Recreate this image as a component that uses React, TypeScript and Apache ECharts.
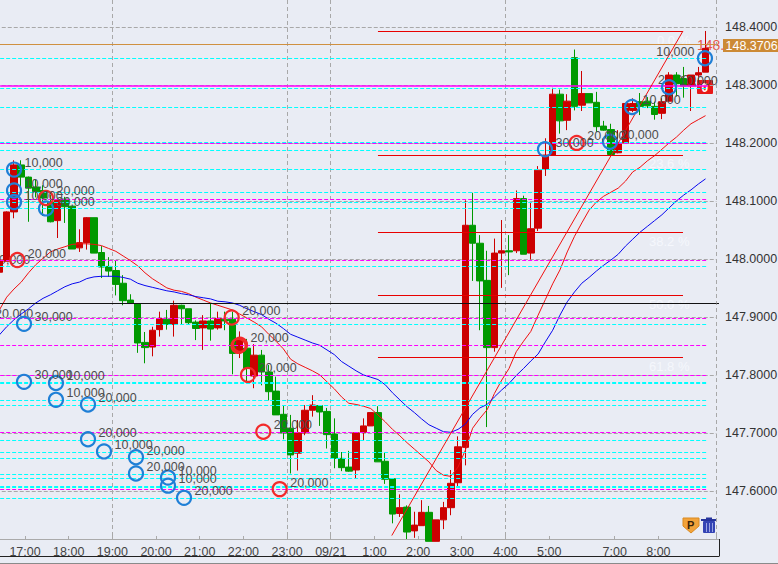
import React, { useEffect, useRef } from "react";
import * as echarts from "echarts";

// Category per 10-minute bar; the feed jumps from 5:50 to 6:30.
const categories = [
  "16:20","16:30","16:40","16:50",
  "17:00","17:10","17:20","17:30","17:40","17:50",
  "18:00","18:10","18:20","18:30","18:40","18:50",
  "19:00","19:10","19:20","19:30","19:40","19:50",
  "20:00","20:10","20:20","20:30","20:40","20:50",
  "21:00","21:10","21:20","21:30","21:40","21:50",
  "22:00","22:10","22:20","22:30","22:40","22:50",
  "23:00","23:10","23:20","23:30","23:40","23:50",
  "09/21","0:10","0:20","0:30","0:40","0:50",
  "1:00","1:10","1:20","1:30","1:40","1:50",
  "2:00","2:10","2:20","2:30","2:40","2:50",
  "3:00","3:10","3:20","3:30","3:40","3:50",
  "4:00","4:10","4:20","4:30","4:40","4:50",
  "5:00","5:10","5:20","5:30","5:40","5:50",
  "6:30","6:40","6:50",
  "7:00","7:10","7:20","7:30","7:40","7:50",
  "8:00","8:10","8:20","8:30","8:40","8:50",
  "9:00","9:10",
];
const timeTicks = ["17:00","18:00","19:00","20:00","21:00","22:00","23:00","09/21","1:00","2:00","3:00","4:00","5:00","7:00","8:00"];
const gridTimes = ["19:00","23:00","09/21","4:00"];
const priceTicks = [147.6,147.7,147.8,147.9,148.0,148.1,148.2,148.3,148.4];

const opens = [
  147.978,147.997,148.082,148.163,148.142,148.125,148.119,148.099,148.067,148.104,
  148.092,148.020,148.029,148.072,148.012,147.988,147.981,147.959,147.930,147.924,
  147.857,147.849,147.879,147.897,147.888,147.921,147.915,147.892,147.882,147.894,
  147.882,147.897,147.897,147.841,147.847,147.799,147.835,147.806,147.773,147.733,
  147.709,147.666,147.701,147.740,147.748,147.738,147.699,147.657,147.642,147.637,
  147.702,147.713,147.736,147.652,147.622,147.562,147.573,147.532,147.541,147.564,
  147.514,147.551,147.572,147.615,147.676,148.059,148.028,147.964,147.848,148.011,
  148.015,148.015,148.105,148.011,148.054,148.156,148.180,148.285,148.240,148.348,
  148.266,148.286,148.271,148.230,148.224,148.184,148.201,148.257,148.272,148.273,
  148.264,148.252,148.273,148.318,148.312,148.299,148.318,148.323,
];
const closes = [
  147.999,148.082,148.163,148.142,148.123,148.117,148.106,148.065,148.102,148.091,
  148.018,148.029,148.072,148.011,147.987,147.980,147.957,147.929,147.924,147.856,
  147.848,147.878,147.898,147.888,147.921,147.915,147.891,147.881,147.894,147.880,
  147.898,147.894,147.838,147.864,147.812,147.835,147.806,147.772,147.732,147.701,
  147.663,147.701,147.740,147.749,147.737,147.698,147.657,147.641,147.635,147.701,
  147.713,147.736,147.651,147.621,147.561,147.572,147.530,147.542,147.564,147.514,
  147.551,147.572,147.614,147.677,148.059,148.028,147.963,147.848,148.011,148.015,
  148.013,148.105,148.009,148.053,148.154,148.180,148.285,148.239,148.273,148.264,
  148.286,148.270,148.229,148.223,148.181,148.200,148.269,148.269,148.264,148.265,
  148.250,148.272,148.318,148.303,148.299,148.318,148.322,148.364,
];
const lows = [
  147.978,147.997,148.071,148.125,148.065,148.107,148.075,148.064,148.037,148.063,
  148.018,148.013,148.017,148.011,147.968,147.970,147.938,147.921,147.924,147.839,
  147.821,147.833,147.867,147.879,147.867,147.888,147.888,147.861,147.844,147.860,
  147.879,147.878,147.802,147.830,147.787,147.778,147.783,147.757,147.732,147.690,
  147.631,147.636,147.697,147.729,147.713,147.674,147.640,147.635,147.634,147.622,
  147.687,147.713,147.651,147.613,147.545,147.556,147.518,147.520,147.541,147.514,
  147.514,147.535,147.559,147.608,147.645,147.963,147.878,147.711,147.841,147.951,
  147.973,148.011,148.009,148.000,148.049,148.144,148.180,148.217,148.223,148.257,
  148.256,148.270,148.220,148.222,148.181,148.183,148.201,148.254,148.249,148.261,
  148.241,148.242,148.273,148.281,148.279,148.256,148.299,148.323,
];
const highs = [
  148.008,148.083,148.171,148.171,148.143,148.137,148.128,148.111,148.106,148.108,
  148.092,148.052,148.073,148.072,148.023,148.004,147.998,147.973,147.940,147.924,
  147.875,147.884,147.910,147.913,147.929,147.922,147.915,147.895,147.904,147.925,
  147.910,147.910,147.910,147.876,147.863,147.854,147.844,147.818,147.798,147.749,
  147.732,147.723,147.749,147.766,147.748,147.744,147.726,147.668,147.670,147.701,
  147.726,147.736,147.747,147.667,147.622,147.595,147.576,147.565,147.585,147.575,
  147.551,147.582,147.637,147.695,148.102,148.115,148.042,148.015,148.036,148.068,
  148.042,148.119,148.110,148.098,148.161,148.209,148.296,148.293,148.285,148.362,
  148.325,148.286,148.289,148.239,148.234,148.223,148.269,148.278,148.287,148.280,
  148.272,148.278,148.323,148.323,148.332,148.318,148.332,148.394,
];
const redAverage = [
  147.913,147.935,147.949,147.961,147.977,147.991,148.002,148.013,148.018,148.022,
  148.026,148.027,148.027,148.026,148.024,148.019,148.014,148.006,147.998,147.989,
  147.977,147.967,147.959,147.951,147.947,147.945,147.941,147.935,147.930,147.925,
  147.921,147.917,147.913,147.906,147.899,147.892,147.884,147.871,147.859,147.846,
  147.828,147.820,147.814,147.808,147.801,147.789,147.777,147.763,147.752,147.750,
  147.747,147.743,147.732,147.720,147.707,147.696,147.684,147.673,147.662,147.651,
  147.636,147.628,147.626,147.642,147.671,147.709,147.726,147.741,147.769,147.792,
  147.812,147.841,147.859,147.876,147.904,147.931,147.958,147.982,148.013,148.040,
  148.063,148.085,148.099,148.109,148.116,148.123,148.135,148.151,148.159,148.170,
  148.179,148.190,148.201,148.211,148.223,148.234,148.241,148.248,
];
const blueAverage = [
  147.870,147.884,147.896,147.906,147.915,147.925,147.933,147.939,147.946,147.953,
  147.958,147.961,147.967,147.970,147.971,147.971,147.971,147.969,147.966,147.959,
  147.955,147.952,147.949,147.946,147.944,147.941,147.939,147.936,147.934,147.932,
  147.928,147.927,147.925,147.921,147.915,147.910,147.905,147.897,147.890,147.881,
  147.871,147.866,147.861,147.856,147.852,147.844,147.836,147.824,147.816,147.808,
  147.801,147.797,147.793,147.784,147.770,147.758,147.746,147.736,147.725,147.715,
  147.709,147.703,147.702,147.707,147.716,147.733,147.744,147.750,147.763,147.775,
  147.786,147.800,147.812,147.825,147.837,147.858,147.878,147.904,147.927,147.944,
  147.959,147.969,147.980,147.990,147.999,148.009,148.023,148.035,148.047,148.057,
  148.067,148.077,148.089,148.101,148.111,148.120,148.130,148.139,
];

const cyanLevels = [148.3469,148.2955,148.2624,148.2014,148.1883,148.1555,148.1159,148.0986,148.0883,147.9883,147.8883,147.7886,147.7866,147.7566,147.7486,147.6883,147.6672,147.6572,147.6293,147.6221,147.6095,147.6066,147.5879];
const magentaLevels = [148.2,148.1038,147.9991,147.8986,147.852,147.8003,147.702,147.6038];
const magentaSolid = 148.2991;
const fibLevels = [148.3934,148.1796,148.0467,147.9383,147.8313];
const fibTexts = ["0.0 %","23.6 %","38.2 %","50.0 %","61.8 %"];
const blackLevel = 147.9245;
const lastPrice = 148.3706;
const fibStart = 52.5;
const fibEnd = 94.4;
const levelEnd = 97.83;
const diagonal = [[54.4,147.524],[94.4,148.394]];

// Trade marks: position in bar units, price, lot label.
const blueTimes = [2.51,2.51,2.51,6.9,3.88,3.88,8.27,8.27,12.67,12.67,14.87,19.26,19.26,23.66,23.66,25.86,75.44,84.37,87.4,92.48];
const bluePrices = [148.155,148.119,148.099,148.088,147.889,147.789,147.787,147.758,147.75,147.69,147.669,147.659,147.631,147.624,147.61,147.589,148.19,148.203,148.263,148.297];
const blueLots = ["10,000","10,000","10,000","30,000","30,000","30,000","10,000","10,000","20,000","20,000","10,000","20,000","20,000","10,000","10,000","20,000","30,000","20,000","10,000","10,000"];
const lastBlue = [97.42,148.347,"10,000"];
const redTimes = [2.96,6.9,32.41,33.55,33.35,34.65,36.75,39.0,79.8];
const redPrices = [147.999,148.106,147.9,147.853,147.851,147.801,147.703,147.604,148.201];
const redLots = ["20,000","20,000","20,000","20,000","","20,000","20,000","20,000","20,000"];

const BG = "#e9ecf4";
const FONT = "'Liberation Sans', Arial, sans-serif";
const fs = 12.5;

function segments(levels: number[], from: number, to: number) {
  return levels.map((p) => [{ xAxis: from, yAxis: p }, { xAxis: to, yAxis: p }]);
}
function levelSeries(data: any[], color: string, type: any, width = 1, z = 4) {
  return {
    type: "line",
    xAxisIndex: 1,
    data: [],
    z,
    silent: true,
    markLine: {
      silent: true,
      animation: false,
      symbol: "none",
      label: { show: false },
      emphasis: { disabled: true },
      lineStyle: { color, type, width, opacity: 1 },
      data,
      z,
    },
  };
}
function markSeries(points: any[], color: string, position: string) {
  return {
    type: "scatter",
    xAxisIndex: 1,
    z: 6,
    symbol: "circle",
    symbolSize: 14,
    silent: true,
    itemStyle: { color: "transparent", borderColor: color, borderWidth: 2.2, opacity: 1 },
    label: {
      show: true,
      position,
      distance: 2.4,
      offset: [0, -6.5],
      fontFamily: FONT,
      fontSize: fs,
      color: "#4c4c4c",
      formatter: (p: any) => p.value[2],
    },
    data: points,
  };
}

export default function App() {
  const ref = useRef<HTMLDivElement>(null);
  useEffect(() => {
    document.body.style.margin = "0";
    const chart = echarts.init(ref.current!, null, { renderer: "svg" });
    const candleData = opens.map((o, i) => [o, closes[i], lows[i], highs[i]]);
    const showTick = (_: number, name: string) => timeTicks.includes(name);
    const showGrid = (_: number, name: string) => gridTimes.includes(name);
    const text = (x: number, y: number, t: string, fill: string, extra: any = {}) => ({
      type: "text",
      x,
      y,
      silent: true,
      style: { text: t, fill, font: `${fs}px ${FONT}`, textVerticalAlign: "middle", ...extra },
    });
    const frame = (x1: number, y1: number, x2: number, y2: number, stroke: string) => ({
      type: "line",
      silent: true,
      shape: { x1, y1, x2, y2 },
      style: { stroke, lineWidth: 1 },
    });
    chart.setOption({
      animation: false,
      backgroundColor: BG,
      grid: { left: -4.24, width: 720.72, top: 0, height: 539, outerBoundsMode: "none" },
      xAxis: [
        {
          type: "category",
          data: categories,
          axisLine: { lineStyle: { color: "#aaaaaa" } },
          axisTick: { show: true, inside: true, length: 3, interval: showTick, lineStyle: { color: "#aaaaaa" } },
          axisLabel: {
            interval: showTick,
            margin: 6,
            padding: [0, 7, 0, 0],
            fontFamily: FONT,
            fontSize: fs,
            color: "#444444",
            hideOverlap: false,
          },
          splitLine: { show: true, interval: showGrid, lineStyle: { color: "#a8a8a8", type: [4, 3] } },
        },
        { type: "value", min: 0, max: 99, show: false, splitLine: { show: false } },
      ],
      yAxis: {
        type: "value",
        position: "right",
        offset: 2.52,
        min: 147.518,
        max: 148.4474,
        axisLine: { show: true, lineStyle: { color: "#222222" } },
        axisTick: { show: false, customValues: priceTicks },
        splitLine: { show: true, lineStyle: { color: "#a8a8a8", type: [4, 2] } },
        axisLabel: {
          customValues: priceTicks,
          margin: 6,
          fontFamily: FONT,
          fontSize: fs,
          color: "#333333",
          formatter: (v: number) => v.toFixed(4),
        },
      },
      series: [
        {
          type: "candlestick",
          z: 2,
          barWidth: 7,
          silent: true,
          itemStyle: { color: "#cc0000", color0: "#009900", borderColor: "#cc0000", borderColor0: "#009900", borderWidth: 1 },
          data: candleData,
        },
        { type: "line", z: 3, data: redAverage, showSymbol: false, silent: true, lineStyle: { color: "#f01010", width: 1 } },
        { type: "line", z: 3, data: blueAverage, showSymbol: false, silent: true, lineStyle: { color: "#0808f0", width: 1 } },
        levelSeries(segments(cyanLevels, 0.6, levelEnd), "#00ffff", [4, 2]),
        levelSeries(segments(magentaLevels, 0.6, levelEnd), "#ff00ff", [4, 2]),
        levelSeries(segments([magentaSolid], 0.6, levelEnd), "#ff00ff", "solid", 1.5),
        levelSeries(segments(fibLevels, fibStart, fibEnd), "#e80000", "solid"),
        levelSeries(segments([blackLevel], 0, 99), "#111111", "solid"),
        levelSeries(segments([lastPrice], 0, 99), "#cf9040", "solid"),
        {
          type: "line",
          xAxisIndex: 1,
          z: 4,
          data: diagonal,
          showSymbol: false,
          silent: true,
          lineStyle: { color: "#f01010", width: 1 },
        },
        markSeries(blueTimes.map((t, i) => [t, bluePrices[i], blueLots[i]]), "#1f7fd6", "right"),
        markSeries([lastBlue], "#1f7fd6", "left"),
        markSeries(redTimes.map((t, i) => [t, redPrices[i], redLots[i]]), "#f22a2a", "right"),
      ],
      graphic: {
        elements: [
          frame(716, 303.5, 719, 303.5, "#111111"),
          frame(716, 45.5, 719, 45.5, "#cf9040"),
          frame(716, 539.5, 719, 539.5, "#aaaaaa"),
          frame(719.5, 539, 719.5, 556, "#222222"),
          frame(0, 556.5, 719.5, 556.5, "#222222"),
          frame(0, 563.5, 778, 563.5, "#8a8a8a"),
          { type: "rect", silent: true, shape: { x: 723, y: 39, width: 55, height: 13 }, style: { fill: "#cc8a35" } },
          text(725.5, 45.8, "148.3706", "#ffffff"),
          ...fibTexts.map((t, i) =>
            text(i === 0 ? 657 : 649, [40, 163, 241.5, 304, 366][i], t, "#f5f7fc", { font: `13px ${FONT}` })
          ),
          text(-5, 314, "20,000", "#4c4c4c"),
          text(-8, 259.5, "20,000", "#4c4c4c"),
          text(658, 80, "20,000", "#4c4c4c"),
          text(697, 45, "148.", "#e8584a", { font: `14px ${FONT}` }),
          { type: "rect", silent: true, shape: { x: 697, y: 80, width: 16, height: 14, r: 1 }, style: { fill: "#e81818" } },
          text(701.5, 87.5, "0", "#ffffff", { font: `bold 12px ${FONT}` }),
          {
            type: "polygon",
            silent: true,
            shape: { points: [[683, 518], [699, 518], [699, 526], [691, 533], [683, 526]] },
            style: { fill: "#f2a33a", stroke: "#d98a20" },
          },
          text(687, 525, "P", "#3a2408", { font: `bold 11px ${FONT}` }),
          { type: "rect", silent: true, shape: { x: 703, y: 521, width: 12, height: 12, r: 1 }, style: { fill: "#3444b4" } },
          { type: "rect", silent: true, shape: { x: 701, y: 519, width: 16, height: 2 }, style: { fill: "#26349c" } },
          { type: "rect", silent: true, shape: { x: 706, y: 517.5, width: 6, height: 2 }, style: { fill: "#26349c" } },
          frame(706.5, 523, 706.5, 532, "#9aa4e4"),
          frame(709.5, 523, 709.5, 532, "#9aa4e4"),
          frame(712.5, 523, 712.5, 532, "#9aa4e4"),
        ],
      },
    });
    return () => chart.dispose();
  }, []);
  return <div ref={ref} style={{ width: 778, height: 564 }} />;
}
